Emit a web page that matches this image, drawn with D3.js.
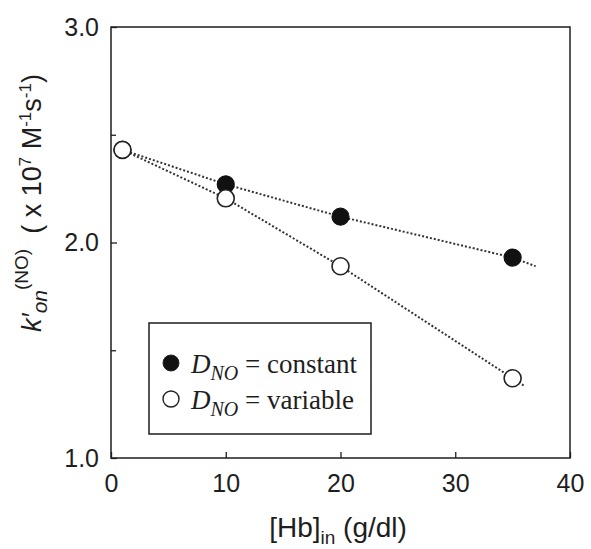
<!DOCTYPE html>
<html>
<head>
<meta charset="utf-8">
<script src="https://cdn.jsdelivr.net/npm/d3@7"></script>
<style>
  html, body { margin: 0; padding: 0; background: #fff; }
  svg { display: block; }
</style>
</head>
<body>
<svg id="chart" width="591" height="549"></svg>
<script>
// Hb concentration (g/dl) and apparent NO association rate constants (x 10^7 M^-1 s^-1)
const hbConc = [1, 10, 20, 35];
const konConstant = [2.43, 2.27, 2.12, 1.93];
const konVariable = [2.43, 2.205, 1.89, 1.37];

// Dotted trend lines, each running through its series and a little past the last point
const trendConstant = [[1, 2.43], [10, 2.27], [20, 2.12], [35, 1.93], [37, 1.89]];
const trendVariable = [[1, 2.43], [10, 2.205], [20, 1.89], [35, 1.37], [36, 1.335]];

const xTicks = [0, 10, 20, 30, 40];
const yTicks = [1.0, 2.0, 3.0];
const yMinorTicks = [1.5, 2.5];

const legendItems = [
  { filled: true, label: "constant" },
  { filled: false, label: "variable" }
];

const svg = d3.select("#chart");
const ink = "#1e1e1e";
const sans = "Liberation Sans, Arial, sans-serif";

const x = d3.scaleLinear().domain([0, 40]).range([111, 570]);
const y = d3.scaleLinear().domain([1, 3]).range([458, 27]);

// frame
svg.append("rect")
  .attr("x", x(0)).attr("y", y(3))
  .attr("width", x(40) - x(0)).attr("height", y(1) - y(3))
  .attr("fill", "none").attr("stroke", ink).attr("stroke-width", 1.5);

// x axis: inward ticks, labels below
const xAxis = svg.append("g")
  .attr("transform", `translate(0,${y(1)})`)
  .call(d3.axisBottom(x).tickValues(xTicks).tickSize(-6).tickPadding(16)
    .tickFormat(d3.format("d")));
xAxis.select(".domain").remove();
xAxis.selectAll("line").attr("stroke", ink).attr("stroke-width", 1.3);
xAxis.selectAll("text")
  .attr("font-family", sans).attr("font-size", 25).attr("fill", ink);

// y axis: labelled major ticks and unlabelled minor ticks
const yAxis = svg.append("g")
  .attr("transform", `translate(${x(0)},0)`)
  .call(d3.axisLeft(y).tickValues(yTicks).tickSize(-6).tickPadding(12)
    .tickFormat(d3.format(".1f")));
yAxis.select(".domain").remove();
yAxis.selectAll("line").attr("stroke", ink).attr("stroke-width", 1.3);
yAxis.selectAll("text")
  .attr("font-family", sans).attr("font-size", 25).attr("fill", ink);

const yMinor = svg.append("g")
  .attr("transform", `translate(${x(0)},0)`)
  .call(d3.axisLeft(y).tickValues(yMinorTicks).tickSize(-5).tickFormat(""));
yMinor.select(".domain").remove();
yMinor.selectAll("line").attr("stroke", ink).attr("stroke-width", 1.3);

// trend lines
const line = d3.line().x(d => x(d[0])).y(d => y(d[1]));
[trendConstant, trendVariable].forEach(pts => {
  svg.append("path")
    .attr("d", line(pts))
    .attr("fill", "none")
    .attr("stroke", "#333")
    .attr("stroke-width", 2)
    .attr("stroke-dasharray", "2,2");
});

// data points: filled first, open circles on top
const r = 8.5;
svg.append("g").selectAll("circle")
  .data(hbConc.map((h, i) => [h, konConstant[i]]))
  .join("circle")
  .attr("cx", d => x(d[0])).attr("cy", d => y(d[1])).attr("r", r)
  .attr("fill", "#111").attr("stroke", "#111").attr("stroke-width", 1.2);

svg.append("g").selectAll("circle")
  .data(hbConc.map((h, i) => [h, konVariable[i]]))
  .join("circle")
  .attr("cx", d => x(d[0])).attr("cy", d => y(d[1])).attr("r", r)
  .attr("fill", "#fff").attr("stroke", "#222").attr("stroke-width", 1.6);

// legend
const lg = svg.append("g");
lg.append("rect")
  .attr("x", 149).attr("y", 323).attr("width", 222).attr("height", 111)
  .attr("fill", "#fff").attr("stroke", ink).attr("stroke-width", 1.5);

legendItems.forEach((it, i) => {
  const cy = 363 + i * 36;
  lg.append("circle")
    .attr("cx", 171).attr("cy", cy).attr("r", 8)
    .attr("fill", it.filled ? "#111" : "#fff")
    .attr("stroke", "#222").attr("stroke-width", it.filled ? 1 : 1.4);
  const t = lg.append("text")
    .attr("x", 191).attr("y", cy + 9.5)
    .attr("font-family", "Liberation Serif, Times New Roman, serif")
    .attr("font-size", 27).attr("fill", ink);
  t.append("tspan").attr("font-style", "italic").text("D");
  t.append("tspan").attr("font-style", "italic").attr("font-size", 20)
    .attr("dy", 7).text("NO");
  t.append("tspan").attr("dy", -7).text(" = " + it.label);
});

// x axis title
const xt = svg.append("text")
  .attr("x", 338).attr("y", 537)
  .attr("text-anchor", "middle")
  .attr("font-family", sans).attr("font-size", 28).attr("fill", ink);
xt.append("tspan").text("[Hb]");
xt.append("tspan").attr("font-size", 19).attr("dy", 7).text("in");
xt.append("tspan").attr("dy", -7).text(" (g/dl)");

// y axis title
const yt = svg.append("text")
  .attr("transform", `translate(41,203) rotate(-90)`)
  .attr("text-anchor", "middle")
  .attr("font-family", sans).attr("font-size", 27).attr("fill", ink)
  .attr("xml:space", "preserve");
yt.append("tspan").attr("font-style", "italic").text("k\u2032");
yt.append("tspan").attr("font-style", "italic").attr("font-size", 21).attr("dy", 6).text("on");
yt.append("tspan").attr("font-size", 19).attr("dy", -19).text("(NO)");
yt.append("tspan").attr("dy", 13).text("  ( x 10");
yt.append("tspan").attr("font-size", 17).attr("dy", -10).text("7");
yt.append("tspan").attr("dy", 10).text(" M");
yt.append("tspan").attr("font-size", 17).attr("dy", -10).text("-1");
yt.append("tspan").attr("dy", 10).text("s");
yt.append("tspan").attr("font-size", 17).attr("dy", -10).text("-1");
yt.append("tspan").attr("dy", 10).text(")");
</script>
</body>
</html>
